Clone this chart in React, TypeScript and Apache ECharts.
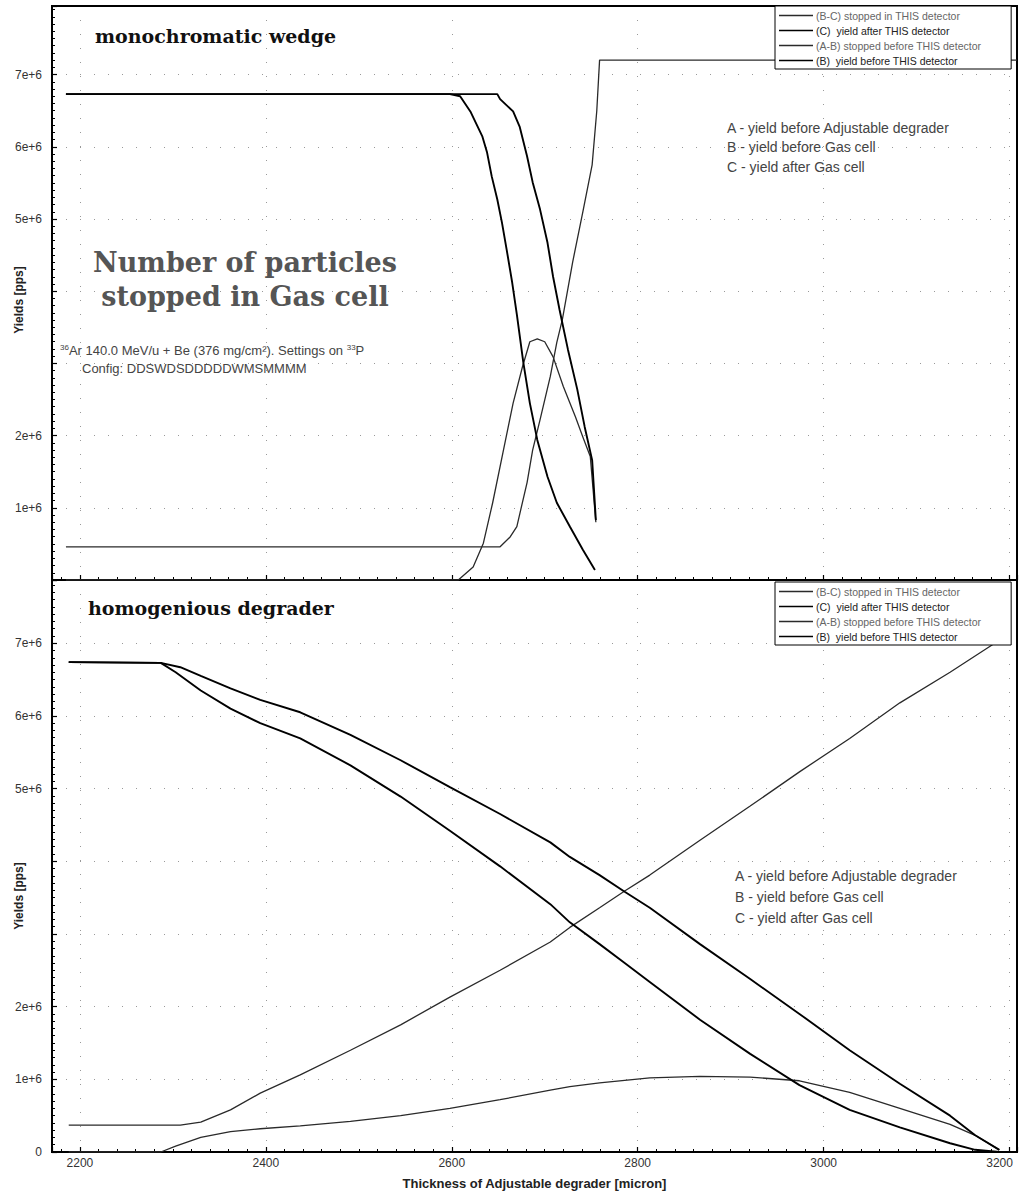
import React, { useEffect, useRef } from "react";
import * as echarts from "echarts";

// ---------- axes ----------
const X_MIN = 2170;
const X_MAX = 3208;
const X_TICKS = [2200, 2400, 2600, 2800, 3000, 3200];
const Y_TICK_LABELS_TOP = ["", "1e+6", "2e+6", "", "", "5e+6", "6e+6", "7e+6"];
const Y_TICK_LABELS_BOTTOM = ["0", "1e+6", "2e+6", "", "", "5e+6", "6e+6", "7e+6"];

const SERIES_NAMES = [
  "(B-C) stopped in THIS detector",
  "(C)  yield after THIS detector",
  "(A-B) stopped before THIS detector",
  "(B)  yield before THIS detector",
];

// ---------- top panel: monochromatic wedge (values in 1e6 pps) ----------
const wedgeBC_x = [2185, 2607, 2623, 2634, 2644, 2655, 2666, 2676, 2684, 2692, 2700, 2709, 2720, 2733, 2741, 2749, 2755];
const wedgeBC_y = [0, 0, 0.18, 0.51, 1.07, 1.76, 2.45, 2.95, 3.3, 3.34, 3.3, 3.09, 2.68, 2.26, 1.98, 1.71, 0.8];

const wedgeC_x = [2185, 2598, 2609, 2620, 2633, 2638, 2643, 2649, 2654, 2659, 2665, 2670, 2677, 2684, 2692, 2703, 2713, 2727, 2741, 2754];
const wedgeC_y = [6.73, 6.73, 6.7, 6.49, 6.14, 5.92, 5.59, 5.27, 4.95, 4.58, 4.12, 3.68, 3.01, 2.45, 1.94, 1.43, 1.07, 0.74, 0.42, 0.14];

const wedgeAB_x = [2185, 2652, 2663, 2670, 2681, 2687, 2695, 2706, 2713, 2719, 2730, 2741, 2751, 2756, 2759, 3208];
const wedgeAB_y = [0.46, 0.46, 0.6, 0.74, 1.35, 1.8, 2.22, 2.82, 3.29, 3.61, 4.4, 5.1, 5.75, 6.5, 7.2, 7.2];

const wedgeB_x = [2185, 2649, 2652, 2666, 2673, 2681, 2687, 2695, 2703, 2709, 2716, 2725, 2735, 2743, 2751, 2755];
const wedgeB_y = [6.73, 6.73, 6.66, 6.49, 6.28, 5.87, 5.51, 5.13, 4.67, 4.2, 3.74, 3.19, 2.64, 2.12, 1.66, 0.83];

// ---------- bottom panel: homogenious degrader (values in 1e6 pps) ----------
const homBC_x = [2188, 2287, 2303, 2330, 2362, 2394, 2437, 2491, 2545, 2598, 2652, 2706, 2727, 2759, 2813, 2867, 2921, 2974, 3028, 3082, 3136, 3163, 3189];
const homBC_y = [0, 0, 0.08, 0.2, 0.28, 0.32, 0.36, 0.42, 0.5, 0.6, 0.72, 0.85, 0.9, 0.95, 1.02, 1.04, 1.03, 0.98, 0.82, 0.6, 0.38, 0.23, 0.03];

const homC_x = [2188, 2287, 2303, 2330, 2362, 2394, 2437, 2491, 2545, 2598, 2652, 2706, 2727, 2759, 2786, 2813, 2867, 2921, 2974, 3028, 3082, 3136, 3163, 3189];
const homC_y = [6.74, 6.73, 6.6, 6.35, 6.1, 5.9, 5.69, 5.32, 4.89, 4.42, 3.93, 3.41, 3.16, 2.86, 2.6, 2.34, 1.82, 1.35, 0.92, 0.58, 0.34, 0.12, 0.03, 0];

const homAB_x = [2188, 2308, 2330, 2362, 2394, 2437, 2491, 2545, 2598, 2652, 2706, 2727, 2759, 2786, 2813, 2867, 2921, 2974, 3028, 3082, 3136, 3189, 3200];
const homAB_y = [0.37, 0.37, 0.41, 0.58, 0.81, 1.06, 1.4, 1.75, 2.13, 2.5, 2.89, 3.09, 3.36, 3.59, 3.81, 4.29, 4.76, 5.23, 5.69, 6.18, 6.6, 7.04, 7.1];

const homB_x = [2188, 2287, 2308, 2330, 2362, 2394, 2437, 2491, 2545, 2598, 2652, 2706, 2727, 2759, 2786, 2813, 2867, 2921, 2974, 3028, 3082, 3136, 3163, 3189];
const homB_y = [6.74, 6.73, 6.67, 6.55, 6.38, 6.22, 6.05, 5.74, 5.39, 5.02, 4.65, 4.26, 4.06, 3.81, 3.58, 3.36, 2.86, 2.38, 1.9, 1.4, 0.94, 0.5, 0.23, 0.03];

const zip = (xs: number[], ys: number[]) => xs.map((x, i) => [x, ys[i] * 1e6]);

const AXIS_FONT = '"Liberation Sans", Arial, sans-serif';
const NARROW_FONT = '"Liberation Sans Narrow", "Liberation Sans", Arial, sans-serif';
const GRID_LINE = { color: "#000", width: 1, type: [1, 13], opacity: 0.4 };

function yAxis(gridIndex: number, max: number, labels: string[], nameShift: number) {
  return {
    type: "value",
    gridIndex,
    min: 0,
    max,
    interval: 1e6,
    name: "Yields [pps]",
    nameLocation: "middle",
    nameGap: 27,
    nameMoveOverlap: false,
    nameTextStyle: {
      fontFamily: AXIS_FONT,
      fontWeight: "bold",
      fontSize: 12,
      color: "#222",
      padding: nameShift > 0 ? [0, nameShift, 0, 0] : [0, 0, 0, -nameShift],
    },
    axisLine: { show: true, lineStyle: { color: "#000", width: 2 } },
    axisTick: { show: true, inside: true, length: 5, lineStyle: { color: "#000", width: 1.2 } },
    minorTick: { show: true, splitNumber: 10, length: 3, lineStyle: { color: "#000", width: 1 } },
    axisLabel: {
      fontFamily: NARROW_FONT,
      fontSize: 12,
      color: "#333",
      margin: 10,
      showMaxLabel: false,
      formatter: (v: number) => {
        const k = Math.round(v / 1e6);
        if (Math.abs(v - k * 1e6) > 1) return "";
        return labels[k] ?? "";
      },
    },
    splitLine: { show: true, lineStyle: GRID_LINE },
  };
}

function xAxis(gridIndex: number, showLabels: boolean) {
  return {
    type: "value",
    gridIndex,
    min: X_MIN,
    max: X_MAX,
    splitNumber: 5,
    name: showLabels ? "Thickness of Adjustable degrader [micron]" : "",
    nameLocation: "middle",
    nameGap: 25,
    nameMoveOverlap: false,
    nameTextStyle: { fontFamily: AXIS_FONT, fontWeight: "bold", fontSize: 13, color: "#222" },
    axisLine: { show: true, onZero: false, lineStyle: { color: "#000", width: 2 } },
    axisTick: { show: true, inside: true, length: 5, lineStyle: { color: "#000", width: 1.2 } },
    minorTick: { show: true, splitNumber: 10, length: 3, lineStyle: { color: "#000", width: 1 } },
    axisLabel: {
      show: showLabels,
      fontFamily: NARROW_FONT,
      fontSize: 12,
      color: "#333",
      margin: 5,
      formatter: (v: number) => {
        const r = Math.round(v);
        if (Math.abs(v - r) > 1e-6 || X_TICKS.indexOf(r) < 0) return "";
        return r === X_TICKS[X_TICKS.length - 1] ? `{last|${r}}` : String(r);
      },
      rich: { last: { fontFamily: NARROW_FONT, fontSize: 12, color: "#333", padding: [0, 20, 0, 0] } },
    },
    splitLine: { show: true, lineStyle: GRID_LINE },
  };
}

function line(name: string, data: number[][], idx: number, strong: boolean) {
  return {
    type: "line",
    name,
    xAxisIndex: idx,
    yAxisIndex: idx,
    data,
    symbol: "none",
    showSymbol: false,
    smooth: false,
    silent: true,
    lineStyle: { color: strong ? "#000" : "#2a2a2a", width: strong ? 1.9 : 1.3 },
    itemStyle: { color: strong ? "#000" : "#2a2a2a" },
    z: strong ? 3 : 2,
  };
}

function legend(top: number) {
  return {
    orient: "vertical",
    left: 775,
    top,
    itemWidth: 34,
    itemHeight: 1.6,
    itemGap: 4,
    icon: "rect",
    padding: [4, 30, 3, 4],
    borderColor: "#000",
    borderWidth: 1,
    backgroundColor: "#fff",
    selectedMode: false,
    textStyle: { fontFamily: AXIS_FONT, fontSize: 10.5, color: "#222", padding: [0, 0, 0, -2] },
    data: [
      { name: SERIES_NAMES[0], textStyle: { color: "#666" } },
      { name: SERIES_NAMES[1] },
      { name: SERIES_NAMES[2], textStyle: { color: "#666" } },
      { name: SERIES_NAMES[3] },
    ],
  };
}

const SERIF = '"DejaVu Serif", serif';
const SANS = '"Liberation Sans", Arial, sans-serif';

function txt(x: number, y: number, text: string, font: string, fill: string, align = "left", rich?: any) {
  return {
    type: "text",
    x,
    y,
    silent: true,
    z: 10,
    style: { text, font, fill, textAlign: align, textVerticalAlign: "middle", rich },
  };
}

const SUP = { sup: { fontSize: 8, fontFamily: SANS, fill: "#444", verticalAlign: "top", padding: [0, 0, 5, 0] } };

export default function App() {
  const ref = useRef<HTMLDivElement>(null);

  useEffect(() => {
    if (!ref.current) return;
    const chart = echarts.init(ref.current, undefined, { renderer: "svg" });
    const option = {
      animation: false,
      backgroundColor: "#fff",
      grid: [
        { left: 52, top: 6, width: 965, height: 574, show: true, borderColor: "#000", borderWidth: 2, backgroundColor: "transparent", containLabel: false, outerBoundsMode: "none" },
        { left: 52, top: 580, width: 965, height: 572, show: true, borderColor: "#000", borderWidth: 2, backgroundColor: "transparent", containLabel: false, outerBoundsMode: "none" },
      ],
      xAxis: [xAxis(0, false), xAxis(1, true)],
      yAxis: [
        yAxis(0, 7.95e6, Y_TICK_LABELS_TOP, 14),
        yAxis(1, 7.87e6, Y_TICK_LABELS_BOTTOM, 60),
      ],
      legend: [legend(6), legend(582)],
      series: [
        line(SERIES_NAMES[0], zip(wedgeBC_x, wedgeBC_y), 0, false),
        line(SERIES_NAMES[1], zip(wedgeC_x, wedgeC_y), 0, true),
        line(SERIES_NAMES[2], zip(wedgeAB_x, wedgeAB_y), 0, false),
        line(SERIES_NAMES[3], zip(wedgeB_x, wedgeB_y), 0, true),
        line(SERIES_NAMES[0], zip(homBC_x, homBC_y), 1, false),
        line(SERIES_NAMES[1], zip(homC_x, homC_y), 1, true),
        line(SERIES_NAMES[2], zip(homAB_x, homAB_y), 1, false),
        line(SERIES_NAMES[3], zip(homB_x, homB_y), 1, true),
      ],
      graphic: [
        txt(95, 36, "monochromatic wedge", `bold 19px ${SERIF}`, "#111"),
        txt(88, 608, "homogenious degrader", `bold 19px ${SERIF}`, "#111"),
        txt(245, 262, "Number of particles", `bold 27px ${SERIF}`, "#555", "center"),
        txt(245, 296, "stopped in Gas cell", `bold 27px ${SERIF}`, "#555", "center"),
        txt(60, 350, "{sup|36}Ar 140.0 MeV/u + Be (376 mg/cm²). Settings on {sup|33}P", `13px ${SANS}`, "#444", "left", SUP),
        txt(82, 368, "Config: DDSWDSDDDDDWMSMMMM", `13px ${SANS}`, "#444"),
        txt(727, 128, "A - yield before Adjustable degrader", `14px ${SANS}`, "#444"),
        txt(727, 147, "B - yield before Gas cell", `14px ${SANS}`, "#444"),
        txt(727, 167, "C - yield after Gas cell", `14px ${SANS}`, "#444"),
        txt(735, 876, "A - yield before Adjustable degrader", `14px ${SANS}`, "#444"),
        txt(735, 897, "B - yield before Gas cell", `14px ${SANS}`, "#444"),
        txt(735, 918, "C - yield after Gas cell", `14px ${SANS}`, "#444"),
      ],
    };
    chart.setOption(option as any);
    return () => chart.dispose();
  }, []);

  return (
    <div
      ref={ref}
      style={{ position: "absolute", left: 0, top: 0, width: 1021, height: 1196, background: "#fff" }}
    />
  );
}
